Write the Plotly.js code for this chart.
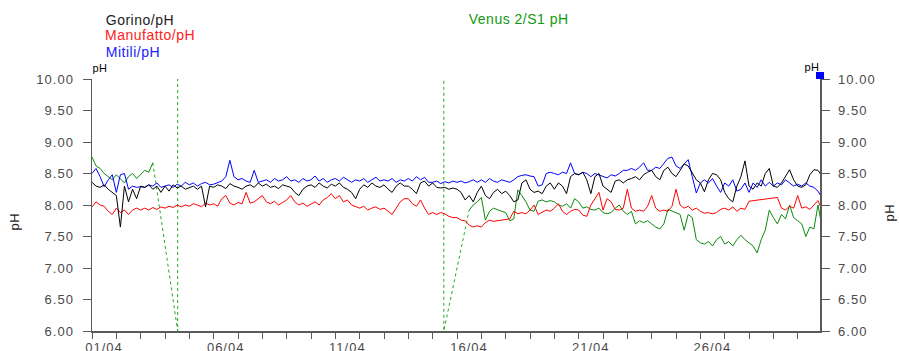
<!DOCTYPE html>
<html>
<head>
<meta charset="utf-8">
<script src="https://cdn.plot.ly/plotly-3.0.1.min.js"></script>
<style>
  html, body { margin: 0; padding: 0; background: #fff; }
  #chart { width: 899px; height: 351px; }
  #chart .xtick text, #chart .ytick text, #chart .y2tick text { letter-spacing: 1px; }
  #chart .annotation-text { letter-spacing: 0.5px; }
</style>
</head>
<body>
<div id="chart"></div>
<script>
// ---- data: one reading every 4 hours starting 01/04 00:00 ----
const seriesStart = '2024-04-01T00:00:00';
const stepHours = 4;

const gorino = [
  8.36, 8.30, 8.28, 8.32, 8.25, 8.20, 8.15, 7.65, 8.30, 8.05, 8.25, 8.10,
  8.30, 8.28, 8.32, 8.25, 8.30, 8.20,
  8.30, 8.22, 8.32, 8.27, 8.30, 8.25,
  8.28, 8.30, 8.25, 8.30, 7.97, 8.30,
  8.28, 8.32, 8.30, 8.26, 8.34, 8.30,
  8.28, 8.25, 8.30, 8.32, 8.28, 8.35,
  8.30, 8.33, 8.28, 8.30, 8.26, 8.32,
  8.30, 8.28, 8.20, 8.15, 8.25, 8.30,
  8.32, 8.28, 8.35, 8.30, 8.27, 8.33,
  8.30, 8.35, 8.28, 8.25, 8.20, 8.10,
  8.25, 8.32, 8.28, 8.35, 8.30, 8.28,
  8.32, 8.25, 8.20, 8.30, 8.35, 8.30,
  8.30, 8.25, 8.18, 8.35, 8.38, 8.30,
  8.35, 8.28, 8.27, 8.28, 8.25, 8.27,
  8.25, 8.20, 8.08, 8.15, 8.05, 8.20,
  8.30, 8.15, 8.10, 8.20, 8.25, 8.18,
  8.22, 8.15, 8.05, 8.08, 8.35, 8.40,
  8.25, 8.20, 8.22, 8.18, 8.30, 8.35,
  8.25, 8.35, 8.30, 8.18, 8.45, 8.50,
  8.48, 8.52, 8.40, 8.18, 8.45, 8.50,
  8.30, 8.25, 8.20, 8.38, 8.40, 8.35,
  8.40, 8.42, 8.45, 8.40, 8.48, 8.52,
  8.55, 8.45, 8.40, 8.55, 8.60, 8.50,
  8.45, 8.55, 8.65, 8.62, 8.50, 8.40,
  8.35, 8.21, 8.40, 8.50, 8.48, 8.40,
  8.20, 8.10, 8.05, 8.30, 8.45, 8.70,
  8.30, 8.25, 8.35, 8.30, 8.50, 8.58,
  8.30, 8.28, 8.35, 8.45, 8.56, 8.40,
  8.30, 8.28, 8.32, 8.48, 8.56, 8.55, 8.46
];

const manufatto = [
  7.97, 8.05, 8.00, 7.98, 7.90, 7.85, 7.95, 7.88, 7.92, 7.85, 7.92, 7.95,
  7.92, 7.95, 7.92, 7.96, 7.93, 7.97,
  7.95, 7.98, 7.96, 8.00, 7.97, 8.00,
  7.98, 8.02, 8.00, 7.97, 8.03, 8.00,
  8.02, 7.98, 8.10, 8.15, 8.03, 8.00,
  8.04, 8.02, 8.20, 8.03, 8.05, 8.10,
  8.15, 8.05, 8.02, 8.06, 8.00, 8.04,
  8.08, 8.15, 8.05, 8.00, 8.03, 7.98,
  8.02, 8.05, 8.00, 8.08, 8.12, 8.18,
  8.10, 8.15, 8.05, 8.08, 8.00, 7.97,
  7.95, 7.98, 7.92, 7.95, 7.97, 7.93,
  7.95, 7.90, 7.85, 7.95, 8.05, 8.10,
  8.10, 8.02, 7.98, 8.08, 7.95, 7.85,
  7.88, 7.85, 7.88, 7.86, 7.82, 7.80,
  7.80, 7.76, 7.75, 7.68, 7.65, 7.67,
  7.65, 7.72, 7.76, 7.74, 7.75, 7.76,
  7.77, 7.78, 7.90, 7.86, 7.88, 7.86,
  7.92, 8.00, 7.85, 7.88, 7.92, 7.90,
  7.95, 8.02, 7.90, 7.85, 7.90, 7.93,
  7.92, 7.84, 7.82, 8.00, 8.10, 8.20,
  7.92, 8.10, 8.05, 7.93, 7.92, 7.95,
  8.25, 7.95, 7.90, 7.92, 7.90, 7.98,
  8.15, 7.95, 7.90, 7.92, 7.90, 7.98,
  8.25, 8.00, 7.95, 7.98, 7.92, 7.95,
  7.90, 7.87, 7.88, 7.86, 7.88, 7.93,
  7.95, 7.92, 7.97, 7.90, 7.95, 7.93,
  8.06, null, null, null, null, null,
  null, 8.12, 7.95, 7.92, 7.98, 7.95,
  8.15, 7.95, 7.97, 7.93, 8.00, 8.07, 7.92
];

const mitili = [
  8.50, 8.58, 8.45, 8.29, 8.40, 8.48, 8.20, 8.48, 8.50, 8.25, 8.30, 8.28,
  8.29, 8.28, 8.32, 8.30, 8.35, 8.28,
  8.30, 8.32, 8.28, 8.33, 8.30, 8.36,
  8.32, 8.35, 8.30, 8.34, 8.36, 8.32,
  8.33, 8.35, 8.38, 8.45, 8.71, 8.45,
  8.40, 8.42, 8.38, 8.36, 8.55, 8.36,
  8.38, 8.40, 8.36, 8.42, 8.38, 8.40,
  8.45, 8.38, 8.40, 8.36, 8.42, 8.38,
  8.40, 8.46, 8.38, 8.42, 8.36, 8.40,
  8.42, 8.38, 8.44, 8.40, 8.36, 8.40,
  8.38, 8.42, 8.36, 8.40, 8.44, 8.38,
  8.40, 8.38, 8.42, 8.36, 8.40, 8.38,
  8.42, 8.38, 8.45, 8.40, 8.44, 8.36,
  8.36, 8.38, 8.34, 8.37, 8.35, 8.38,
  8.36, 8.38, 8.35, 8.37, 8.40, 8.36,
  8.40, 8.36, 8.42, 8.38, 8.36, 8.40,
  8.38, 8.36, 8.40, 8.45, 8.47, 8.48,
  8.46, 8.45, 8.30, 8.32, 8.50, 8.52,
  8.50, 8.48, 8.52, 8.50, 8.67, 8.50,
  8.48, 8.52, 8.50, 8.45, 8.50, 8.48,
  8.45, 8.43, 8.48, 8.46, 8.50, 8.55,
  8.55, 8.58, 8.55, 8.60, 8.67, 8.55,
  8.55, 8.60, 8.58, 8.66, 8.74, 8.76,
  8.62, 8.58, 8.65, 8.72, 8.45, 8.19,
  8.35, 8.40, 8.35, 8.42, 8.30, 8.20,
  8.35, 8.30, 8.40, 8.22, 8.25, 8.35,
  8.20, 8.35, 8.28, 8.40, 8.30, 8.36,
  8.30, 8.35, 8.32, 8.40, 8.35, 8.30,
  8.33, 8.30, 8.35, 8.30, 8.28, 8.22, 8.11
];

// Venus 2/S1: valid readings before and after the sensor outage
const venusStart1 = '2024-04-01T00:00:00';
const venus1 = [8.76, 8.62, 8.58, 8.50, 8.45, 8.40, 8.48, 8.42, 8.35, 8.45, 8.50, 8.42, 8.48, 8.55, 8.52, 8.67];
const venusStart2 = '2024-04-16T12:00:00';
const venus2 = [
  7.92, 8.00, 8.05,
  8.12, 7.76, 7.90, 7.95, 7.92, 7.90,
  7.88, 7.75, 7.78, 8.24, 8.15, 8.05,
  7.92, 7.90, 8.06, 8.08, 8.05, 8.07,
  8.05, 8.00, 7.98, 8.02, 7.95, 8.10,
  8.05, 7.95, 7.97, 7.93, 7.92, 7.95,
  7.88, 7.86, 7.88, 7.95, 8.00, 7.90,
  7.85, 7.90, 7.70, 7.75, 7.72, 7.75,
  7.70, 7.65, 7.62, 7.70, 7.93, 7.90,
  7.88, 7.85, 7.60, 7.85, 7.80, 7.45,
  7.40, 7.38, 7.42, 7.35, 7.45, 7.50,
  7.38, 7.42, 7.35, 7.45, 7.52, 7.45,
  7.40, 7.35, 7.24, 7.45, 7.60, 7.92,
  7.80, 7.70, 7.85, 7.78, 8.00, 7.80,
  7.75, 7.70, 7.50, 7.65, 7.62, 8.00, 7.65
];
// outage readings (off-scale values drawn dotted)
const venusGapTimes = ['2024-04-03 12:00', '2024-04-04 12:30', '2024-04-04 12:30', '2024-04-15 11:00', '2024-04-15 11:00', '2024-04-16 12:00'];
const venusGapValues = [8.67, 6.0, 14.0, 14.0, 6.0, 7.92];

const seriesNames = ['Gorino/pH', 'Manufatto/pH', 'Mitili/pH', 'Venus 2/S1 pH'];
const yTickLabelsFormat = '.2f';
const xTickFormat = '%d/%m';

// ---- helpers ----
function timesFrom(startIso, n) {
  const t0 = Date.parse(startIso + 'Z');
  const out = [];
  for (let i = 0; i < n; i++) {
    out.push(new Date(t0 + i * stepHours * 3600e3).toISOString().slice(0, 19).replace('T', ' '));
  }
  return out;
}

const tMain = timesFrom(seriesStart, gorino.length);
const venusX = timesFrom(venusStart1, venus1.length).concat([null], timesFrom(venusStart2, venus2.length));
const venusY = venus1.concat([null], venus2);

const line = (c) => ({ color: c, width: 1 });

const traces = [
  { type: 'scatter', mode: 'lines', name: seriesNames[3] + ' gap', x: venusGapTimes, y: venusGapValues,
    line: { color: '#22a822', width: 1, dash: 'dot' }, hoverinfo: 'skip' },
  { type: 'scatter', mode: 'lines', name: seriesNames[3], x: venusX, y: venusY, line: line('#0a8a0a'), connectgaps: false },
  { type: 'scatter', mode: 'lines', name: seriesNames[1], x: tMain, y: manufatto, line: line('#ff0000'), connectgaps: true },
  { type: 'scatter', mode: 'lines', name: seriesNames[2], x: tMain, y: mitili, line: line('#0000ff') },
  { type: 'scatter', mode: 'lines', name: seriesNames[0], x: tMain, y: gorino, line: line('#000000') },
  { type: 'scatter', mode: 'lines', x: [tMain[0]], y: [8], yaxis: 'y2', showlegend: false, hoverinfo: 'skip',
    line: { color: 'rgba(0,0,0,0)' } }
];

const axisColor = '#5a5a5a';
const fontFam = 'Arial, "Liberation Sans", sans-serif';
const tickFont = { family: fontFam, size: 13, color: '#4a4a4a' };

const yCommon = {
  range: [6, 10], dtick: 0.5, tick0: 6, tickformat: yTickLabelsFormat,
  showgrid: false, zeroline: false, showline: true, linecolor: axisColor, linewidth: 1.5,
  ticks: 'outside', ticklen: 8, tickwidth: 1, tickcolor: axisColor,
  tickfont: tickFont, ticklabelstandoff: 6, fixedrange: true
};

const ann = (text, x, y, opts) => Object.assign({
  text: text, x: x, y: y, xref: 'paper', yref: 'paper', showarrow: false,
  xanchor: 'left', yanchor: 'middle',
  font: { family: fontFam, size: 14, color: '#222' }
}, opts || {});

const layout = {
  width: 899, height: 351,
  margin: { l: 92, r: 79, t: 79, b: 20, pad: 0 },
  paper_bgcolor: '#ffffff', plot_bgcolor: '#ffffff',
  showlegend: false,
  xaxis: {
    type: 'date', range: ['2024-04-01 00:00', '2024-04-30 22:00'],
    tick0: '2024-04-01', dtick: 5 * 86400000, tickformat: xTickFormat,
    showgrid: false, zeroline: false, showline: true, linecolor: axisColor, linewidth: 1.5,
    ticks: 'outside', ticklen: 6, tickcolor: axisColor, tickwidth: 1,
    minor: { dtick: 86400000, ticks: 'outside', ticklen: 6, tickcolor: axisColor, tickwidth: 1, showgrid: false },
    tickfont: tickFont, ticklabelshift: 12, ticklabelstandoff: -2, fixedrange: true
  },
  yaxis: Object.assign({}, yCommon, { side: 'left' }),
  yaxis2: Object.assign({}, yCommon, { side: 'right', overlaying: 'y' }),
  annotations: [
    ann(seriesNames[0], 0.0192, 1.236, { font: { family: fontFam, size: 14, color: '#222222' } }),
    ann(seriesNames[1], 0.0192, 1.1747, { font: { family: fontFam, size: 14, color: '#ff2020' } }),
    ann(seriesNames[2], 0.0192, 1.109, { font: { family: fontFam, size: 14, color: '#2020ff' } }),
    ann(seriesNames[3], 0.5192, 1.238, { font: { family: fontFam, size: 14, color: '#119911' } }),
    ann('pH', -0.002, 1.0437, { font: { family: fontFam, size: 11, color: '#000' } }),
    ann('pH', 1.002, 1.0476, { xanchor: 'right', font: { family: fontFam, size: 11, color: '#000' } }),
    ann('pH', -0.1058, 0.4366, { xanchor: 'center', textangle: -90, font: { family: fontFam, size: 13, color: '#222' } }),
    ann('pH', 1.0948, 0.468, { xanchor: 'center', textangle: -90, font: { family: fontFam, size: 13, color: '#222' } })
  ],
  shapes: [
    { type: 'rect', xref: 'paper', yref: 'paper', x0: 0.9945, x1: 1.0055, y0: 1.0, y1: 1.0278,
      fillcolor: '#0000ff', line: { width: 0 }, layer: 'above' }
  ]
};

Plotly.newPlot('chart', traces, layout, { displayModeBar: false, staticPlot: true });
</script>
</body>
</html>
